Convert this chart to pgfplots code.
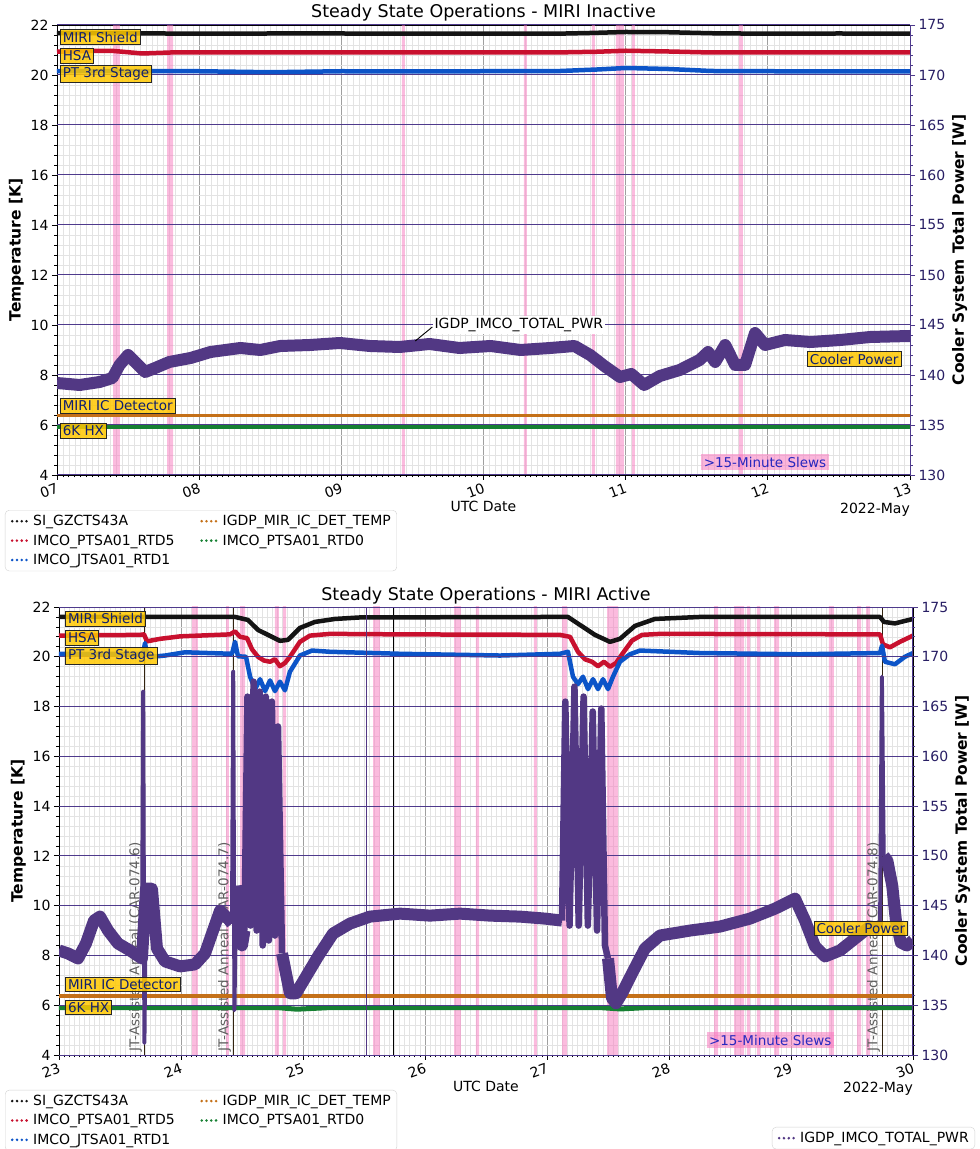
\documentclass[border=0pt]{standalone}
\usepackage{fontspec}
\setmainfont{DejaVu Sans}
\usepackage{pgfplots}
\pgfplotsset{compat=1.18}

\definecolor{tblack}{RGB}{20,20,20}
\definecolor{tred}{RGB}{200,16,46}
\definecolor{tblue}{RGB}{12,84,200}
\definecolor{torange}{RGB}{196,112,24}
\definecolor{tgreen}{RGB}{22,128,50}
\definecolor{tpurple}{RGB}{82,56,132}
\definecolor{gridpurple}{RGB}{78,58,140}
\definecolor{rticks}{RGB}{40,30,100}
\definecolor{slewpink}{RGB}{248,120,190}
\definecolor{slewtext}{RGB}{40,40,190}
\definecolor{labgold}{RGB}{255,200,0}
\definecolor{labtext}{RGB}{15,30,110}
\definecolor{jtline}{RGB}{50,35,15}

\newcommand\tickf{\fontsize{14}{16.5}\selectfont}
\newcommand\legf{\fontsize{14}{16.5}\selectfont}
\newcommand\labf{\fontsize{15.5}{18}\selectfont\bfseries}
\newcommand\titf{\fontsize{17.5}{20}\selectfont}
\newcommand\boxf{\fontsize{13.5}{16}\selectfont}

% one pink slew band, in temperature coordinates
\newcommand\band[2]{\addplot[draw=none, fill=slewpink, fill opacity=0.5, forget plot] coordinates {(#1,0)(#1,30)(#2,30)(#2,0)} \closedcycle;}

\tikzset{
  goldlab/.style={draw=black!85, line width=0.9pt, fill=labgold, fill opacity=0.85, text opacity=1,
    text=labtext, font=\boxf, inner xsep=2.5pt, inner ysep=2pt},
  slewlab/.style={fill=slewpink, fill opacity=0.55, text opacity=1, text=slewtext, font=\boxf, inner sep=2.5pt},
  jtlab/.style={rotate=90, anchor=south west, text=gray!75!black, font=\boxf, inner sep=1pt},
}

\pgfplotsset{
  dotleg/.style={legend image code/.code={%
    \draw[##1, line width=2.8pt, line cap=round, dash pattern=on 0pt off 4.8pt] (3pt,0pt) -- (17.5pt,0pt);
    \path[draw=none, fill=none] (0pt,0pt) -- (22pt,0pt);}},
  tempax/.style={
    scale only axis, anchor=south west,
    ymin=4, ymax=22, ytick={4,6,...,22}, minor y tick num=4, minor x tick num=23,
    tick align=outside, xtick pos=left, ytick pos=left,
    major tick length=5pt, minor tick length=2.5pt,
    tick style={black, line width=0.8pt},
    grid=both, ymajorgrids=false,
    major grid style={gray!75, line width=0.9pt},
    minor grid style={gray!22, line width=0.5pt},
    axis line style={line width=0.9pt},
    tick label style={font=\tickf},
    xticklabel style={rotate=20, anchor=north east, inner sep=2pt},
    /pgf/number format/assume math mode=true,
    ylabel={Temperature [K]}, ylabel style={font=\labf},
    xlabel={UTC Date}, xlabel style={font=\tickf, at={(axis description cs:0.5,-0.058)}, anchor=north, inner sep=0pt},
    clip mode=individual, dotleg,
    legend columns=2,
    legend style={anchor=north west, draw=gray!35, rounded corners=4pt, font=\legf,
      inner xsep=4pt, inner ysep=3pt, row sep=3.5pt, cells={anchor=west},
      /tikz/every even column/.append style={column sep=22pt}},
  },
  powax/.style={
    scale only axis, anchor=south west,
    ymin=130, ymax=175, ytick={130,135,...,175}, minor y tick num=4,
    axis x line=none, axis y line*=right, tick align=outside,
    major tick length=5pt, minor tick length=2.5pt,
    ytick style={gridpurple, line width=0.8pt},
    y axis line style={gridpurple, line width=1pt},
    ymajorgrids, major grid style={gridpurple, line width=1pt},
    yticklabel style={font=\tickf, text=rticks},
    /pgf/number format/assume math mode=true,
    ylabel={Cooler System Total Power [W]}, ylabel style={font=\labf},
    clip mode=individual, dotleg,
    legend style={draw=gray!35, rounded corners=4pt, font=\legf, inner xsep=4pt, inner ysep=3pt},
  },
  tline/.style={line width=4.5pt, line join=round},
  pw/.style={tpurple, line width=12pt, line join=round},
  pwthin/.style={tpurple, line width=4pt, line join=round},
  pwosc/.style={tpurple, line width=6.5pt, line join=round},
}

\begin{document}
\begin{tikzpicture}
\useasboundingbox (0,0) rectangle (980pt,1149pt);
\clip (0,0) rectangle (980pt,1149pt);

%================ TOP: MIRI Inactive ================
\begin{axis}[tempax, at={(57pt,674pt)}, width=853pt, height=450pt,
  xmin=7, xmax=13, xtick={7,...,13}, xticklabels={07,08,09,10,11,12,13},
  legend style={at={(-0.061,-0.078)}}]
\band{7.394}{7.443}
\band{7.774}{7.816}
\band{9.426}{9.447}
\band{10.284}{10.305}
\band{10.762}{10.783}
\band{10.931}{10.987}
\band{11.043}{11.065}
\band{11.796}{11.824}
\addplot[tblack, tline] coordinates {(7,21.67)(7.5,21.67)(8,21.65)(8.5,21.66)(9,21.66)(9.5,21.65)(10,21.65)(10.5,21.65)(10.75,21.68)(11,21.72)(11.3,21.71)(11.6,21.67)(12,21.65)(12.5,21.66)(13,21.65)};
\addlegendentry{SI\_GZCTS43A}
\addplot[torange, line width=3.5pt] coordinates {(7,6.38)(13,6.38)};
\addlegendentry{IGDP\_MIR\_IC\_DET\_TEMP}
\addplot[tred, tline] coordinates {(7,20.93)(7.2,20.96)(7.4,20.96)(7.6,20.86)(7.8,20.9)(8.5,20.9)(9,20.9)(9.5,20.9)(10,20.9)(10.5,20.9)(10.8,20.93)(11,20.97)(11.3,20.94)(11.6,20.9)(12,20.9)(13,20.9)};
\addlegendentry{IMCO\_PTSA01\_RTD5}
\addplot[tgreen, line width=4.5pt] coordinates {(7,5.92)(13,5.92)};
\addlegendentry{IMCO\_PTSA01\_RTD0}
\addplot[tblue, tline] coordinates {(7,20.15)(7.5,20.15)(8,20.15)(8.5,20.11)(9,20.15)(9.5,20.14)(10,20.15)(10.5,20.15)(10.8,20.22)(11,20.28)(11.3,20.24)(11.6,20.16)(12,20.15)(13,20.14)};
\addlegendentry{IMCO\_JTSA01\_RTD1}
\node[font=\titf, anchor=base] at (rel axis cs:0.5,1) [yshift=7pt] {Steady State Operations - MIRI Inactive};
\node[font=\tickf, anchor=base east, inner sep=0pt] at (rel axis cs:1,0) [yshift=-39pt] {2022-May};
\end{axis}

\begin{axis}[powax, at={(57pt,674pt)}, width=853pt, height=450pt, xmin=7, xmax=13]
\addplot[pw] coordinates {(7.00,139.2)(7.16,139.0)(7.30,139.3)(7.39,139.7)(7.44,141.0)(7.50,142.0)(7.55,141.3)(7.62,140.3)(7.69,140.7)(7.79,141.3)(7.94,141.7)(8.08,142.3)(8.29,142.7)(8.43,142.5)(8.57,142.9)(8.78,143.0)(8.99,143.2)(9.20,142.9)(9.41,142.8)(9.62,143.1)(9.83,142.7)(10.05,142.9)(10.26,142.5)(10.47,142.7)(10.64,142.9)(10.75,142.0)(10.85,140.9)(10.96,139.8)(11.04,140.1)(11.13,139.0)(11.24,139.9)(11.38,140.5)(11.52,141.5)(11.58,142.3)(11.63,141.3)(11.70,143.0)(11.77,141.0)(11.84,141.0)(11.91,144.2)(11.98,143.0)(12.12,143.5)(12.30,143.3)(12.51,143.5)(12.72,143.8)(13.00,143.9)};
\draw[black, line width=0.9pt] (axis cs:9.52,143.4) -- (axis cs:9.64,144.8);
\node[fill=white, anchor=west, font=\legf, inner sep=2pt] at (axis cs:9.64,145) {IGDP\_IMCO\_TOTAL\_PWR};
\node[goldlab, anchor=west] at (axis cs:7.02,173.8) {MIRI Shield};
\node[goldlab, anchor=west] at (axis cs:7.02,171.9) {HSA};
\node[goldlab, anchor=west] at (axis cs:7.02,170.1) {PT 3rd Stage};
\node[goldlab, anchor=west] at (axis cs:7.02,136.9) {MIRI IC Detector};
\node[goldlab, anchor=west] at (axis cs:7.02,134.4) {6K HX};
\node[goldlab, anchor=east] at (axis cs:12.94,141.6) {Cooler Power};
\node[slewlab] at (axis cs:11.98,131.3) {>15-Minute Slews};
\end{axis}

%================ BOTTOM: MIRI Active ================
\begin{axis}[tempax, at={(59pt,94pt)}, width=854pt, height=448pt,
  xmin=23, xmax=30, xtick={23,...,30}, xticklabels={23,24,25,26,27,28,29,30},
  legend style={at={(-0.0632,-0.078)}}]
\band{24.090}{24.139}
\band{24.369}{24.393}
\band{24.484}{24.525}
\band{24.770}{24.803}
\band{24.836}{24.861}
\band{25.574}{25.631}
\band{26.238}{26.295}
\band{26.418}{26.443}
\band{26.893}{26.918}
\band{27.123}{27.164}
\band{27.492}{27.582}
\band{28.369}{28.402}
\band{28.533}{28.615}
\band{28.639}{28.664}
\band{28.721}{28.746}
\band{28.861}{28.902}
\band{29.311}{29.352}
\band{29.541}{29.574}
\band{29.615}{29.648}
\addplot[jtline, line width=1.2pt, forget plot] coordinates {(23.70,4)(23.70,22)};
\addplot[jtline, line width=1.2pt, forget plot] coordinates {(24.43,4)(24.43,22)};
\addplot[jtline, line width=1.2pt, forget plot] coordinates {(29.75,4)(29.75,22)};
\addplot[black, line width=1.2pt, forget plot] coordinates {(25.74,4)(25.74,22)};
\node[jtlab] at (axis cs:23.69,4.1) {JT-Assisted Anneal (CAR-074.6)};
\node[jtlab] at (axis cs:24.42,4.1) {JT-Assisted Anneal (CAR-074.7)};
\node[jtlab] at (axis cs:29.74,4.1) {JT-Assisted Anneal (CAR-074.8)};
\addplot[tblack, tline] coordinates {(23.000,21.6)(23.664,21.6)(24.443,21.6)(24.549,21.48)(24.631,21.08)(24.713,20.88)(24.811,20.64)(24.877,20.68)(24.975,21.16)(25.098,21.40)(25.262,21.52)(25.467,21.58)(27.107,21.6)(27.172,21.6)(27.270,21.28)(27.393,20.88)(27.516,20.6)(27.598,20.72)(27.721,21.24)(27.885,21.52)(28.254,21.6)(29.730,21.6)(29.762,21.4)(29.852,21.34)(30.000,21.52)};
\addlegendentry{SI\_GZCTS43A}
\addplot[torange, line width=3.5pt] coordinates {(23,6.38)(30,6.38)};
\addlegendentry{IGDP\_MIR\_IC\_DET\_TEMP}
\addplot[tred, tline] coordinates {(23.000,20.85)(23.664,20.88)(23.697,20.9)(23.721,20.62)(23.828,20.72)(23.992,20.82)(24.402,20.9)(24.443,21.02)(24.484,20.8)(24.541,20.75)(24.582,20.3)(24.631,20.0)(24.680,19.85)(24.730,19.8)(24.770,19.9)(24.811,19.62)(24.852,19.75)(24.893,20.0)(24.975,20.6)(25.057,20.85)(25.221,20.92)(25.795,20.9)(27.107,20.88)(27.189,20.8)(27.254,20.2)(27.311,19.9)(27.369,19.8)(27.418,19.62)(27.467,19.8)(27.516,19.6)(27.566,19.75)(27.615,20.1)(27.697,20.65)(27.779,20.88)(27.926,20.92)(29.730,20.9)(29.754,20.5)(29.811,20.38)(29.893,20.6)(30.000,20.85)};
\addlegendentry{IMCO\_PTSA01\_RTD5}
\addplot[tgreen, line width=5pt] coordinates {(23,5.9)(24.8,5.9)(24.95,5.84)(25.2,5.9)(27.45,5.9)(27.6,5.85)(27.8,5.9)(30,5.9)};
\addlegendentry{IMCO\_PTSA01\_RTD0}
\addplot[tblue, tline] coordinates {(23.000,20.12)(23.689,20.12)(23.705,20.55)(23.721,20.1)(23.762,20.0)(23.869,20.05)(24.033,20.18)(24.418,20.12)(24.443,20.6)(24.467,20.02)(24.533,20.0)(24.566,19.2)(24.607,18.7)(24.648,19.1)(24.689,18.62)(24.730,19.05)(24.770,18.62)(24.811,19.0)(24.852,18.65)(24.893,19.4)(24.975,20.05)(25.074,20.25)(25.221,20.2)(25.795,20.12)(26.615,20.05)(27.107,20.12)(27.172,20.2)(27.213,19.2)(27.254,18.9)(27.295,19.2)(27.336,18.7)(27.377,19.1)(27.418,18.7)(27.459,19.1)(27.500,18.7)(27.541,19.2)(27.598,19.8)(27.680,20.1)(27.762,20.25)(28.254,20.15)(29.074,20.1)(29.730,20.15)(29.746,20.45)(29.770,19.8)(29.852,19.7)(29.934,20.0)(30.000,20.15)};
\addlegendentry{IMCO\_JTSA01\_RTD1}
\node[font=\titf, anchor=base] at (rel axis cs:0.5,1) [yshift=6pt] {Steady State Operations - MIRI Active};
\node[font=\tickf, anchor=base east, inner sep=0pt] at (rel axis cs:1,0) [yshift=-38pt] {2022-May};
\end{axis}

\begin{axis}[powax, at={(59pt,94pt)}, width=854pt, height=448pt, xmin=23, xmax=30,
  legend style={at={(1.0726,-0.1607)}, anchor=north east}]
\addplot[pw] coordinates {(23.000,140.5)(23.074,140.2)(23.156,139.7)(23.221,141.2)(23.287,143.5)(23.336,143.9)(23.402,142.5)(23.484,141.2)(23.582,140.5)(23.680,139.7)(23.713,146.7)(23.762,146.7)(23.803,140.7)(23.869,139.4)(23.992,138.9)(24.115,139.1)(24.197,140.2)(24.254,142.2)(24.320,144.5)(24.385,143.7)(24.418,143.2)};
\addlegendentry{IGDP\_IMCO\_TOTAL\_PWR}
\addplot[pwthin, forget plot] coordinates {(23.680,139.7)(23.690,166.5)(23.700,131.2)(23.713,146.7)};
\addplot[pwthin, forget plot] coordinates {(24.418,143.2)(24.428,168.5)(24.438,134.5)(24.452,147.0)};
\addplot[pw, forget plot] coordinates {(24.452,147.0)(24.475,145.0)(24.500,141.0)(24.520,142.5)};
\addplot[pwosc, forget plot] coordinates {(24.520,142.5)(24.545,166)(24.570,143)(24.595,167.5)(24.620,142.5)(24.645,166.5)(24.670,141)(24.695,166)(24.720,141.5)(24.745,165.5)(24.770,142)(24.795,163)(24.828,140.2)};
\addplot[pw, forget plot] coordinates {(24.828,140.2)(24.893,136.2)(24.943,136.2)(25.016,137.7)(25.123,139.9)(25.246,142.2)(25.385,143.2)(25.549,143.9)(25.795,144.2)(26.041,144.0)(26.287,144.2)(26.533,144.0)(26.779,143.9)(26.984,143.7)(27.123,143.5)};
\addplot[pwosc, forget plot] coordinates {(27.123,143.5)(27.150,165.5)(27.185,143)(27.225,167)(27.260,143)(27.300,166)(27.335,143)(27.375,164.5)(27.410,142.5)(27.445,164.8)(27.475,141)(27.500,139.7)};
\addplot[pw, forget plot] coordinates {(27.500,139.7)(27.533,135.7)(27.566,135.2)(27.615,136.2)(27.697,138.2)(27.803,140.7)(27.926,142.0)(28.172,142.5)(28.418,142.9)(28.664,143.7)(28.869,144.7)(29.033,145.7)(29.115,143.5)(29.197,140.9)(29.279,139.9)(29.402,140.5)(29.525,141.7)(29.648,142.9)(29.730,142.7)};
\addplot[pwthin, forget plot] coordinates {(29.730,142.7)(29.745,168)(29.760,150)};
\addplot[pw, forget plot] coordinates {(29.760,150)(29.79,149.5)(29.83,147)(29.86,143.5)(29.90,141.3)(29.95,141)(30.0,141.5)};
\addplot[tpurple, line width=1pt, forget plot] coordinates {(25.52,130)(25.52,175)};
\node[goldlab, anchor=west] at (axis cs:23.05,173.8) {MIRI Shield};
\node[goldlab, anchor=west] at (axis cs:23.05,171.9) {HSA};
\node[goldlab, anchor=west] at (axis cs:23.05,170.1) {PT 3rd Stage};
\node[goldlab, anchor=west] at (axis cs:23.05,137.1) {MIRI IC Detector};
\node[goldlab, anchor=west] at (axis cs:23.05,134.8) {6K HX};
\node[goldlab, anchor=east] at (axis cs:29.96,142.7) {Cooler Power};
\node[slewlab] at (axis cs:28.83,131.5) {>15-Minute Slews};
\end{axis}
\end{tikzpicture}
\end{document}
